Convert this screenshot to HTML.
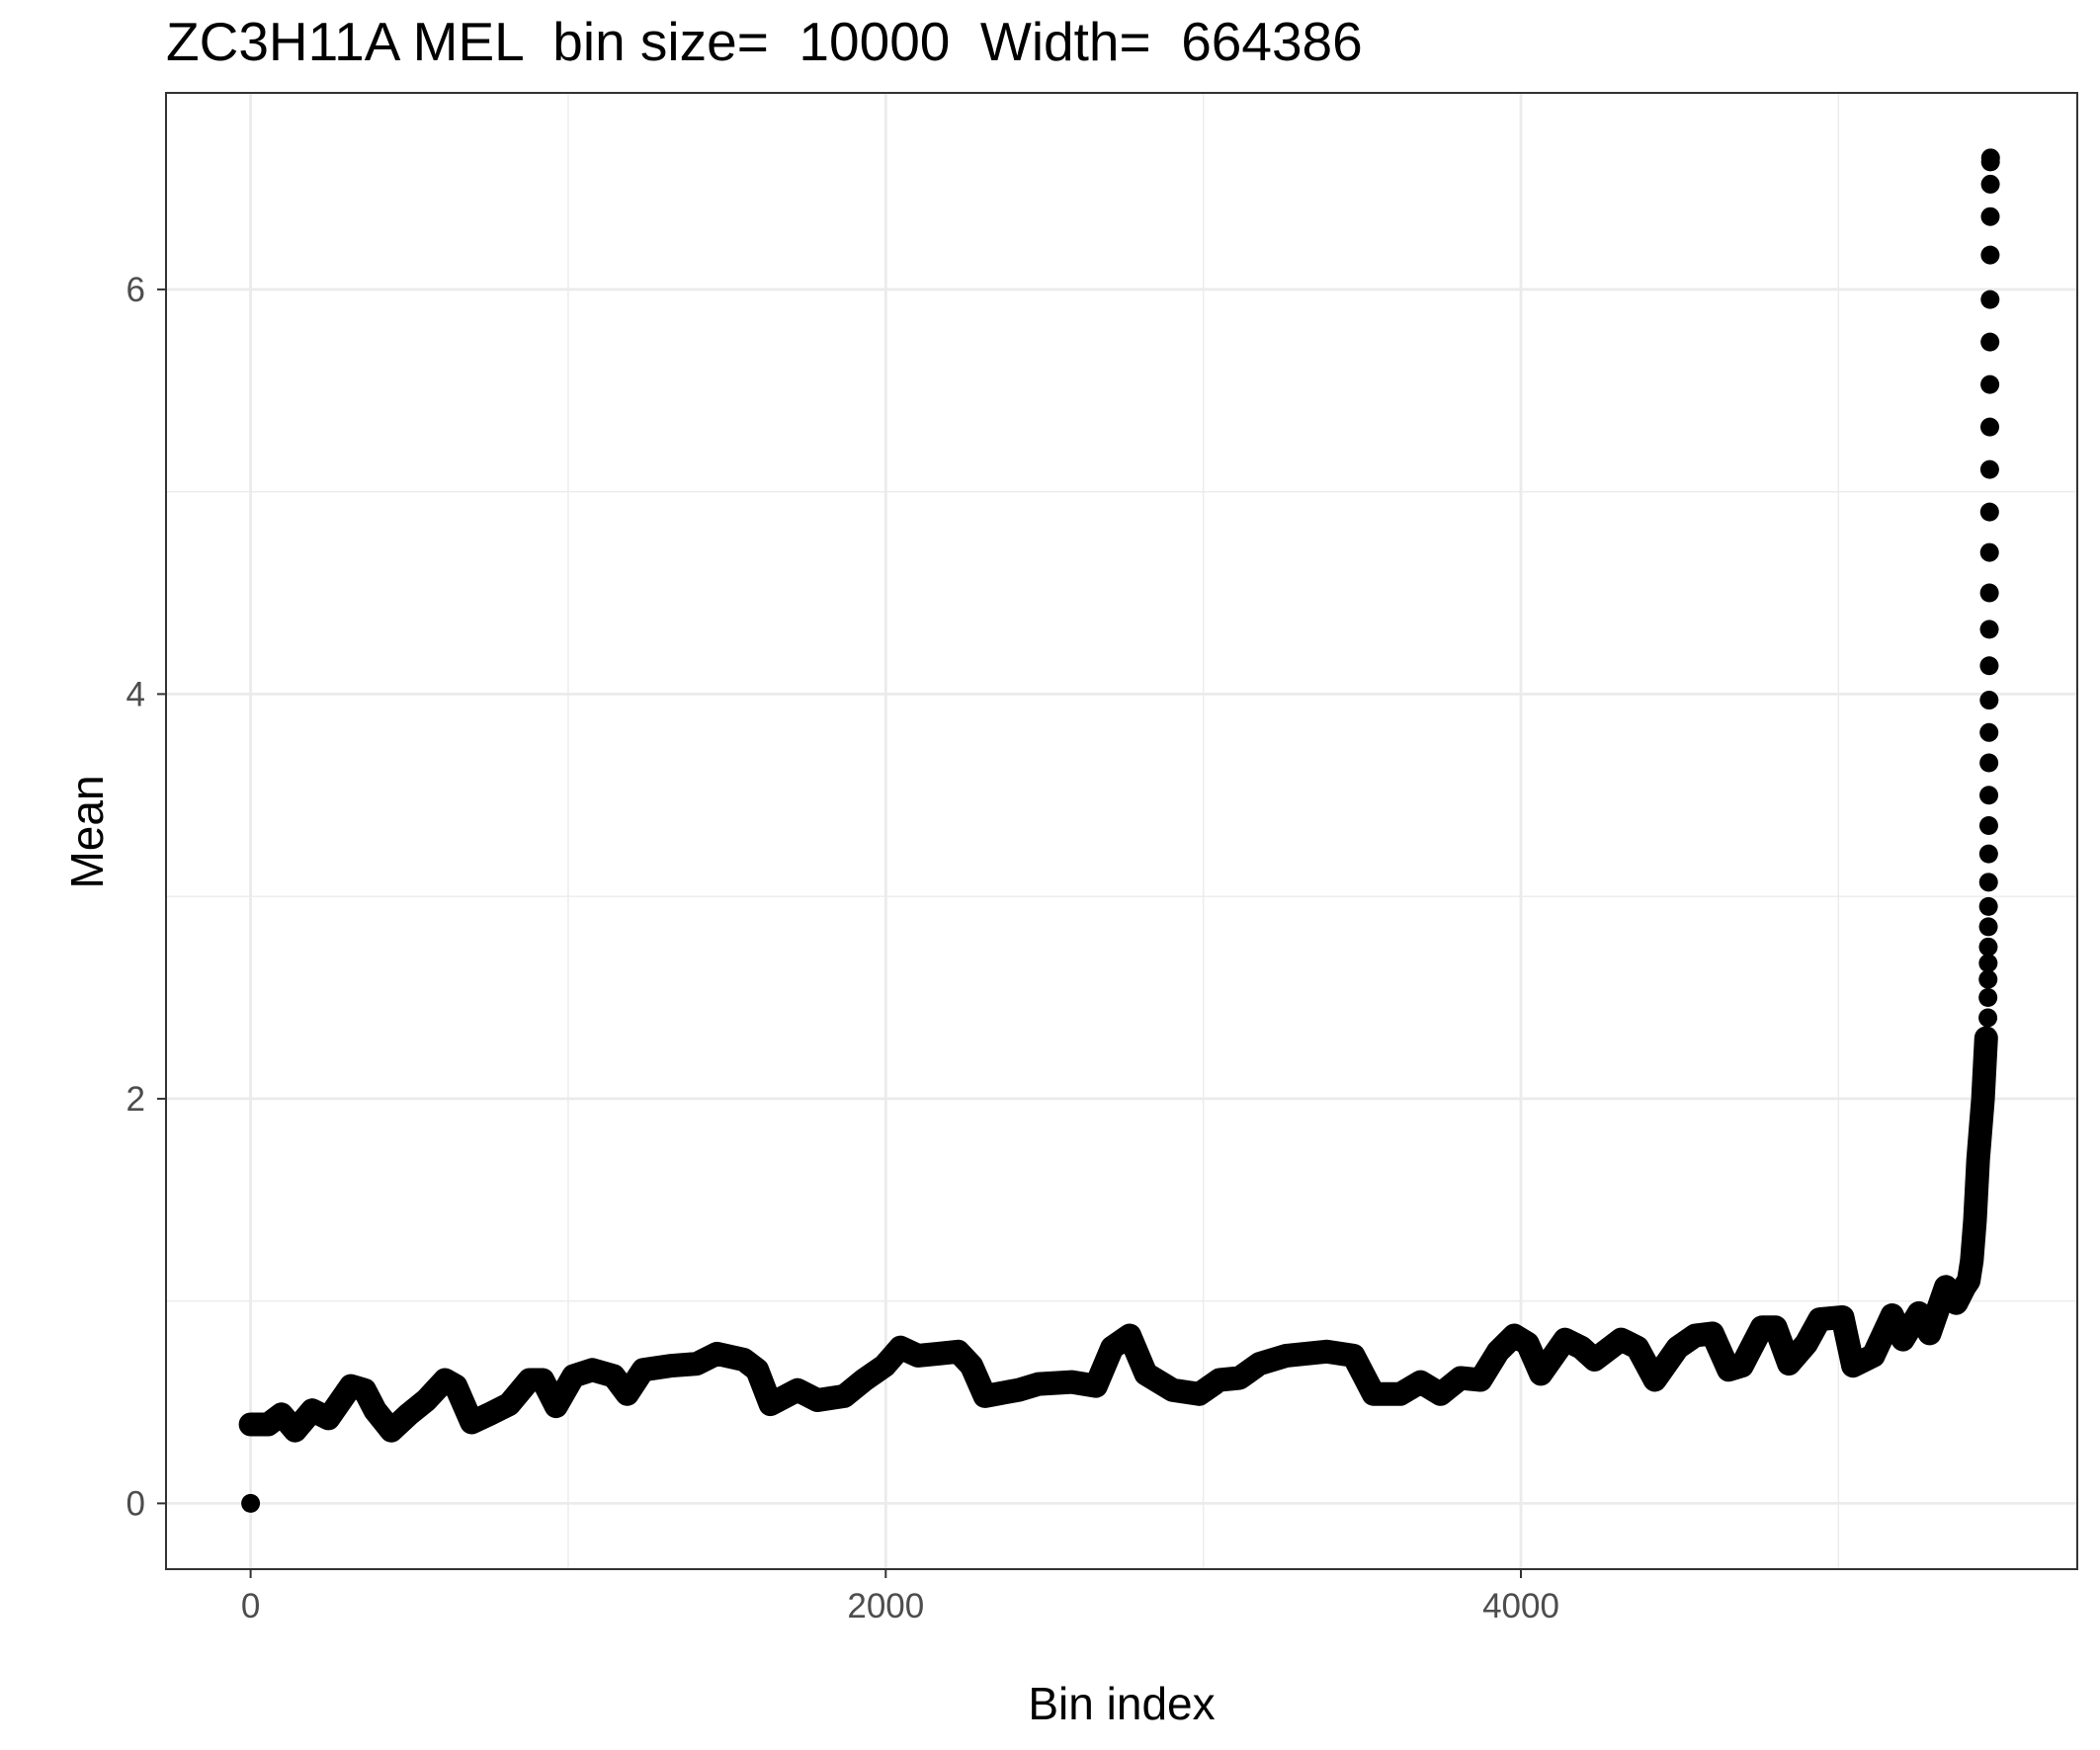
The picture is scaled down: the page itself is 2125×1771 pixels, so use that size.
<!DOCTYPE html>
<html><head><meta charset="utf-8"><style>
html,body{margin:0;padding:0;background:#fff;}
svg{display:block;font-family:"Liberation Sans",sans-serif;}
</style></head><body>
<svg id="chart" width="2125" height="1771" viewBox="0 0 2125 1771">
<rect x="0" y="0" width="2125" height="1771" fill="#fff"/>
<g id="grid"></g>
<g id="marks"></g>
<rect x="168" y="94" width="1934" height="1494" fill="none" stroke="#333" stroke-width="2"/>
<g id="axes"></g>
<text x="168" y="61" font-size="55" style="white-space:pre" xml:space="preserve" fill="#000">ZC3H11A MEL  bin size=  10000  Width=  664386</text>
<text x="1135" y="1740" font-size="46" text-anchor="middle" fill="#000">Bin index</text>
<text transform="translate(104,842) rotate(-90)" font-size="46" text-anchor="middle" fill="#000">Mean</text>
</svg>
<script>
const mainBins=[0,55,97,140,194,245,316,359,392,443,498,553,612,646,696,751,814,878,920,962,1017,1076,1143,1186,1236,1321,1405,1468,1553,1595,1637,1722,1785,1869,1932,1996,2046,2101,2165,2228,2270,2312,2418,2481,2586,2662,2713,2768,2819,2903,2987,3051,3114,3177,3262,3388,3473,3536,3620,3684,3747,3810,3873,3928,3979,4021,4063,4139,4190,4232,4316,4367,4422,4494,4549,4603,4654,4696,4759,4802,4844,4899,4941,5013,5046,5110,5169,5203,5253,5287,5338,5371,5397,5410,5420,5430,5440,5455,5465];
const mainValues=[0.39,0.39,0.44,0.36,0.46,0.42,0.58,0.56,0.46,0.36,0.44,0.51,0.61,0.58,0.40,0.44,0.49,0.61,0.61,0.48,0.63,0.66,0.63,0.54,0.66,0.68,0.69,0.74,0.71,0.66,0.49,0.56,0.51,0.53,0.61,0.68,0.77,0.73,0.74,0.75,0.68,0.53,0.56,0.59,0.60,0.58,0.77,0.83,0.64,0.56,0.54,0.61,0.62,0.69,0.73,0.75,0.73,0.54,0.54,0.60,0.54,0.62,0.61,0.75,0.83,0.79,0.64,0.81,0.77,0.71,0.81,0.77,0.61,0.77,0.83,0.84,0.66,0.68,0.87,0.87,0.69,0.79,0.91,0.92,0.68,0.73,0.93,0.81,0.94,0.84,1.07,0.99,1.07,1.1,1.2,1.4,1.7,2.0,2.3];
const tailValues=[2.40,2.50,2.59,2.67,2.75,2.85,2.95,3.07,3.21,3.35,3.50,3.66,3.81,3.97,4.14,4.32,4.50,4.70,4.90,5.11,5.32,5.53,5.74,5.95,6.17,6.36,6.52,6.63,6.65];
const tailLastBin=5479;
const outlierBin=0, outlierValue=0;
const xTicks=[0,2000,4000];
const xMinor=[1000,3000,5000];
const yTicks=[0,2,4,6];
const yMinor=[1,3,5];
const NS='http://www.w3.org/2000/svg';
const X=b=>253.6+b*0.32135;
const Y=v=>1521.4-v*204.75;
function mk(tag,attrs,parent){const e=document.createElementNS(NS,tag);for(const k in attrs)e.setAttribute(k,attrs[k]);parent.appendChild(e);return e;}
const grid=document.getElementById('grid'),marks=document.getElementById('marks'),axes=document.getElementById('axes');
xMinor.forEach(t=>{const l=mk('line',{x1:X(t),x2:X(t),y1:94,y2:1588,stroke:'#ebebeb','stroke-width':1.4},grid);

});
yMinor.forEach(t=>{const l=mk('line',{x1:168,x2:2102,y1:Y(t),y2:Y(t),stroke:'#ebebeb','stroke-width':1.4},grid);

});
xTicks.forEach(t=>{const l=mk('line',{x1:X(t),x2:X(t),y1:94,y2:1588,stroke:'#ebebeb','stroke-width':2.8},grid);


const tk=mk('line',{x1:X(t),x2:X(t),y1:1588,y2:1597,stroke:'#333','stroke-width':2},axes);


const tx=mk('text',{x:X(t),y:1637,'font-size':35,'text-anchor':'middle',fill:'#4d4d4d'},axes);tx.textContent=t;

});
yTicks.forEach(t=>{const l=mk('line',{x1:168,x2:2102,y1:Y(t),y2:Y(t),stroke:'#ebebeb','stroke-width':2.8},grid);


const tk=mk('line',{x1:159,x2:168,y1:Y(t),y2:Y(t),stroke:'#333','stroke-width':2},axes);


const tx=mk('text',{x:147,y:Y(t)+12,'font-size':35,'text-anchor':'end',fill:'#4d4d4d'},axes);tx.textContent=t;

});
let d='';mainBins.forEach((b,i)=>{d+=(i?'L':'M')+X(b).toFixed(1)+' '+Y(mainValues[i]).toFixed(1);});
const p=mk('path',{d:d,fill:'none',stroke:'#000','stroke-width':24,'stroke-linejoin':'round','stroke-linecap':'round'},marks);


tailValues.forEach((v,i)=>{const b=tailLastBin-(tailValues.length-1-i)*0.3;const c=mk('circle',{cx:X(b),cy:Y(v),r:9.5,fill:'#000'},marks);

});
const o=mk('circle',{cx:X(outlierBin),cy:Y(outlierValue),r:9.5,fill:'#000'},marks);


</script>
</body></html>
